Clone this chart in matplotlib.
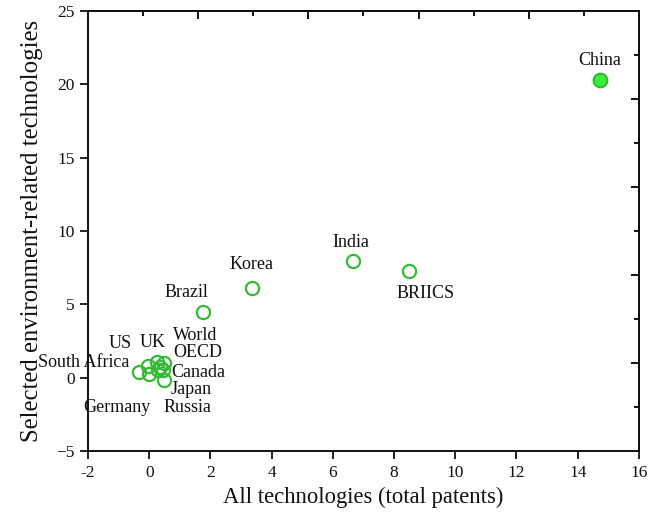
import numpy as np
import matplotlib
matplotlib.use("Agg")
import matplotlib.pyplot as plt

plt.rcParams['font.family'] = ['Liberation Serif', 'DejaVu Serif']

# Data
countries = ["China", "India", "BRIICS", "Korea", "Brazil",
             "US", "UK", "World", "OECD", "South Africa",
             "Canada", "Japan", "Germany", "Russia"]
all_tech = [14.73, 6.65, 8.50, 3.35, 1.77,
            -0.05, 0.25, 0.49, 0.35, -0.33,
            0.30, 0.49, -0.01, 0.45]
env_tech = [20.3, 7.98, 7.28, 6.10, 4.45,
            0.78, 1.07, 1.00, 0.75, 0.39,
            0.55, -0.13, 0.26, 0.50]

# label offsets in pixels (layout)
label_offsets = {
    "China": (0, 19), "India": (-2, 18), "BRIICS": (16, -23), "Korea": (0, 24),
    "Brazil": (-17, 20), "US": (-27, 23), "UK": (-4, 19), "World": (31, 27),
    "OECD": (38, 14), "South Africa": (-55, 9), "Canada": (40, -3),
    "Japan": (27, -10), "Germany": (-32, -34), "Russia": (24, -37),
}

fig = plt.figure(figsize=(6.48, 5.13), dpi=100)
ax = fig.add_axes([0.1358, 0.1209, 0.8502, 0.8577])

green_edge = '#35bb35'
for name, x, y in zip(countries, all_tech, env_tech):
    if name == "China":
        ax.plot(x, y, 'o', ms=10, mfc='#3ded3d', mec='#27b827', mew=1.3, zorder=3)
    else:
        ax.plot(x, y, 'o', ms=9.5, mfc='none', mec=green_edge, mew=1.6, zorder=3)
    dx, dy = label_offsets[name]
    ax.annotate(name, (x, y), xytext=(dx, dy), textcoords='offset pixels',
                ha='center', va='center', fontsize=13, color='#111111', zorder=4)

ax.set_xlim(-2, 16)
ax.set_ylim(-5, 25)
ax.set_xticks(np.arange(-2, 17, 2))
ax.set_xticklabels([str(v) for v in range(-2, 17, 2)])
ax.set_yticks(np.arange(-5, 26, 5))
ax.set_yticklabels(["\u22125", "0", "5", "10", "15", "20", "25"])
ax.tick_params(axis='both', direction='out', length=6, width=1.3, labelsize=12.5,
               top=False, right=False, color='#111111', labelcolor='#111111')
ax.tick_params(axis='x', pad=4)

for sp in ax.spines.values():
    sp.set_linewidth(1.4)
    sp.set_color('#111111')

# Mirrored top/right axes with their own tick spacing
top = ax.secondary_xaxis('top')
top.set_xticks(np.linspace(-2, 16, 6)[1:-1])
top.set_xticks(np.linspace(-2, 16, 11)[1::2], minor=True)
top.tick_params(which='major', direction='in', length=6, width=1.3, labeltop=False)
top.tick_params(which='minor', direction='in', length=3.5, width=1.3)
top.set_xticklabels([])
top.spines['top'].set_linewidth(1.4)

right = ax.secondary_yaxis('right')
right.set_yticks(np.linspace(-5, 25, 6)[1:-1])
right.set_yticks(np.linspace(-5, 25, 11)[1::2], minor=True)
right.tick_params(which='major', direction='in', length=6, width=1.3, labelright=False)
right.tick_params(which='minor', direction='in', length=3.5, width=1.3)
right.set_yticklabels([])
right.spines['right'].set_linewidth(1.4)

ax.set_xlabel("All technologies (total patents)", fontsize=16.3, color='#111111', labelpad=4)
ax.set_ylabel("Selected environment-related technologies", fontsize=17.8, color='#111111', labelpad=10)

fig.savefig("out.png", dpi=100)
